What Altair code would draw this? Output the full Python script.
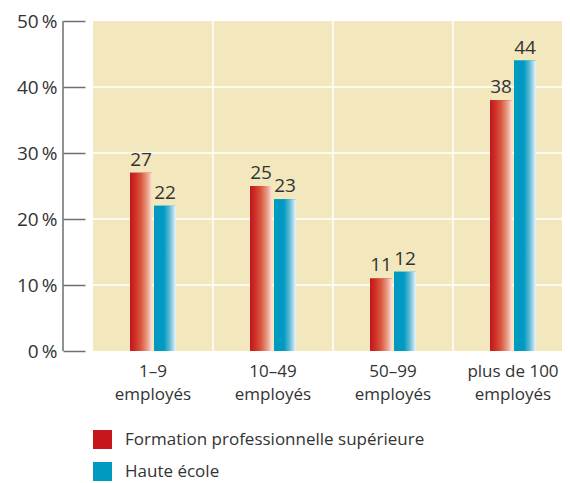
import altair as alt
import pandas as pd

categories = ["1–9 employés", "10–49 employés", "50–99 employés", "plus de 100 employés"]
series = ["Formation professionnelle supérieure", "Haute école"]
formation = [27, 25, 11, 38]
haute_ecole = [22, 23, 12, 44]
y_ticks = [0, 10, 20, 30, 40, 50]
grid_values = [10, 20, 30, 40]
colors = ["#c8161d", "#0099c1"]

rows = []
for i, c in enumerate(categories):
    rows.append({"cat": c, "serie": series[0], "val": formation[i]})
    rows.append({"cat": c, "serie": series[1], "val": haute_ecole[i]})
df = pd.DataFrame(rows)

W, H = 469, 330
FONT = "Open Sans"
TXT = "#333333"

x_scale = alt.Scale(domain=categories, paddingInner=0, paddingOuter=0, range=[0, 480])
x_axis = alt.Axis(
    labelExpr="split(replace(datum.value, ' employés', '|employés'), '|')",
    ticks=False, domain=False, grid=False, labelPadding=12, labelFontSize=17,
    labelLineHeight=23, labelFont=FONT, labelColor=TXT, title=None, labelAngle=0, labelLimit=0,
)
x_enc = alt.X("cat:N", scale=x_scale, axis=x_axis)
xo_enc = alt.XOffset("serie:N", scale=alt.Scale(domain=series, paddingInner=1 / 12, paddingOuter=0, range=[37, 83]))
y_scale = alt.Scale(domain=[0, 50], nice=False)
y_axis = alt.Axis(
    values=y_ticks, labelExpr="datum.value + '\u2009%'", offset=8, tickSize=22,
    tickColor="#6e6e6e", tickWidth=1.5, domain=False, grid=False, labelPadding=6,
    labelFontSize=19, labelFont=FONT, labelColor=TXT, title=None,
)
y_enc = alt.Y("val:Q", scale=y_scale, axis=y_axis)

hgrid = alt.Chart(pd.DataFrame({"val": grid_values})).mark_rule(color="white", strokeWidth=1.5).encode(y=y_enc)
vgrid = alt.Chart(pd.DataFrame({"cat": categories[1:]})).mark_rule(color="white", strokeWidth=1.5).encode(
    x=alt.X("cat:N", scale=x_scale, axis=x_axis, bandPosition=0)
)

solid = alt.Chart(df).mark_bar().encode(
    x=x_enc, xOffset=xo_enc, y=y_enc,
    color=alt.Color("serie:N", scale=alt.Scale(domain=series, range=colors), legend=alt.Legend(
        orient="none", legendX=0, legendY=409, title=None, symbolType="square", symbolSize=361,
        symbolStrokeWidth=0, symbolOpacity=1, labelFontSize=17, labelFont=FONT, labelColor=TXT,
        labelOffset=13, rowPadding=13, labelLimit=0,
    )),
)

grad_red = {
    "gradient": "linear", "x1": 0, "x2": 1, "y1": 0, "y2": 0,
    "stops": [
        {"offset": 0, "color": "#c4161c"},
        {"offset": 0.2, "color": "#cc2a24"},
        {"offset": 0.5, "color": "#d9583f"},
        {"offset": 0.8, "color": "#eba18b"},
        {"offset": 1, "color": "#fbe3da"},
    ],
}
grad_blue = {
    "gradient": "linear", "x1": 0, "x2": 1, "y1": 0, "y2": 0,
    "stops": [
        {"offset": 0, "color": "#0099c1"},
        {"offset": 0.45, "color": "#0199c1"},
        {"offset": 0.7, "color": "#5cb8d6"},
        {"offset": 1, "color": "#eaf5fa"},
    ],
}

red_bars = alt.Chart(df).transform_filter(alt.datum.serie == series[0]).mark_bar(color=grad_red).encode(
    x=x_enc, xOffset=xo_enc, y=y_enc
)
blue_bars = alt.Chart(df).transform_filter(alt.datum.serie == series[1]).mark_bar(color=grad_blue).encode(
    x=x_enc, xOffset=xo_enc, y=y_enc
)

labels = alt.Chart(df).mark_text(baseline="bottom", dy=-3, fontSize=19, font=FONT, color=TXT).encode(
    x=x_enc, xOffset=xo_enc, y=y_enc, text=alt.Text("val:Q")
)

axis_line = alt.Chart(pd.DataFrame({"a": [0]})).mark_rule(color="#6e6e6e", strokeWidth=1.5).encode(
    x=alt.value(-30), y=alt.value(0), y2=alt.value(H)
)

chart = alt.layer(hgrid, vgrid, solid, red_bars, blue_bars, labels, axis_line).properties(
    width=W, height=H,
    padding={"left": 85, "top": 13, "right": 0, "bottom": 130},
    autosize=alt.AutoSizeParams(type="none"),
).configure_view(fill="#f3e7bd", stroke=None)

chart.save("out.html", embed_options={"renderer": "svg", "actions": False})
